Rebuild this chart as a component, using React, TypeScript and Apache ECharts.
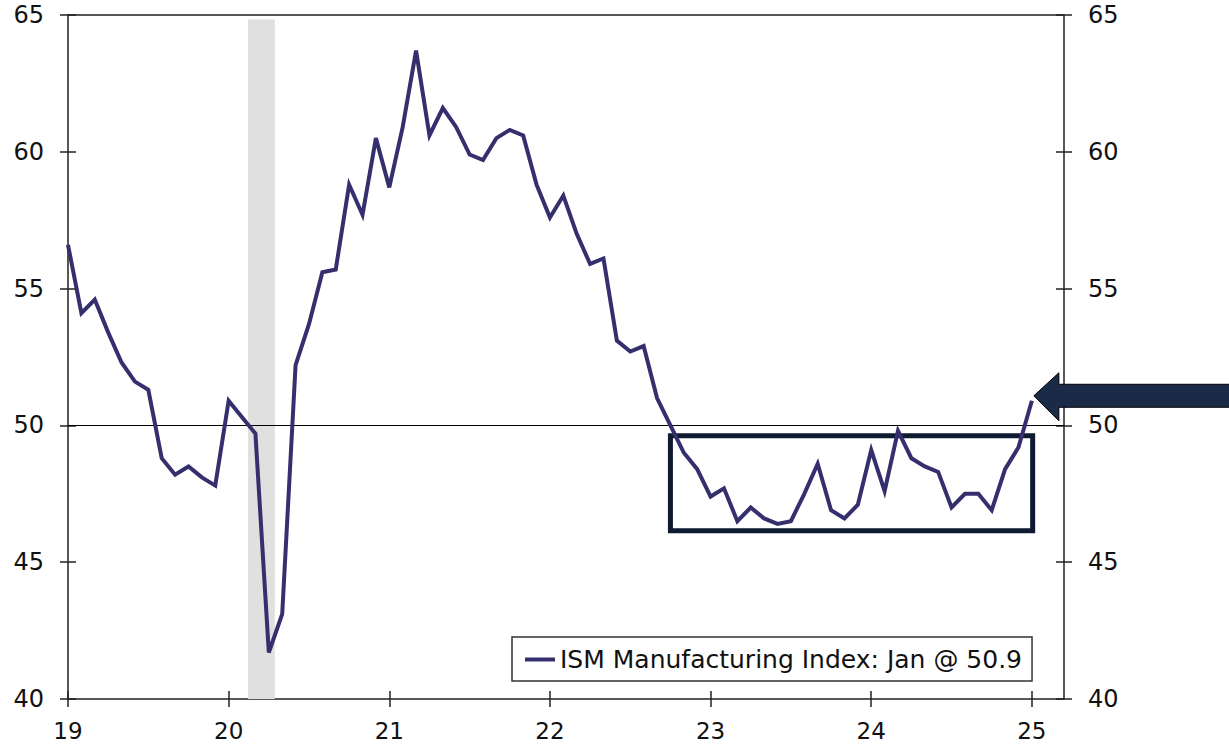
import React, { useEffect, useRef } from "react";
import * as echarts from "echarts";

// ISM Manufacturing Index, monthly, Jan 2019 .. Jan 2025
const ism2019 = [56.6, 54.1, 54.6, 53.4, 52.3, 51.6, 51.3, 48.8, 48.2, 48.5, 48.1, 47.8];
const ism2020 = [50.9, 50.3, 49.7, 41.7, 43.1, 52.2, 53.7, 55.6, 55.7, 58.8, 57.7, 60.5];
const ism2021 = [58.7, 60.9, 63.7, 60.6, 61.6, 60.9, 59.9, 59.7, 60.5, 60.8, 60.6, 58.8];
const ism2022 = [57.6, 58.4, 57.0, 55.9, 56.1, 53.1, 52.7, 52.9, 51.0, 50.0, 49.0, 48.4];
const ism2023 = [47.4, 47.7, 46.5, 47.0, 46.6, 46.4, 46.5, 47.5, 48.6, 46.9, 46.6, 47.1];
const ism2024 = [49.1, 47.6, 49.8, 48.8, 48.5, 48.3, 47.0, 47.5, 47.5, 46.9, 48.4, 49.2];
const ism2025 = [50.9];

const xTickValues = [0, 12, 24, 36, 48, 60, 72]; // months since Jan 2019
const xTickLabels = ["19", "20", "21", "22", "23", "24", "25"];
const yTickLabels = [40, 45, 50, 55, 60, 65];

const recession = [13.45, 15.45]; // Feb–Apr 2020 shading (months since Jan 2019)
const boxRange = { x0: 45, x1: 72.06, y0: 46.15, y1: 49.62 };
const legendLabel = "ISM Manufacturing Index: Jan @ 50.9";

const FONT = "'DejaVu Sans', Verdana, sans-serif";
const LINE_COLOR = "#352f6e";
const AXIS_COLOR = "#222";

export default function App() {
  const ref = useRef<HTMLDivElement>(null);

  useEffect(() => {
    if (!ref.current) return;
    const chart = echarts.init(ref.current, null, { renderer: "svg" });
    const values = [...ism2019, ...ism2020, ...ism2021, ...ism2022, ...ism2023, ...ism2024, ...ism2025];
    const data = values.map((v, i) => [i, v]);
    const xMin = 0;
    const xMax = 74.4;
    const yMin = yTickLabels[0];
    const yMax = yTickLabels[yTickLabels.length - 1];

    const labelText = { color: "#111", fontSize: 24, fontFamily: FONT };
    const tickStyle = { color: AXIS_COLOR, width: 1.5 };

    chart.setOption({
      animation: false,
      backgroundColor: "#fff",
      grid: {
        left: 68,
        right: 165,
        top: 15,
        bottom: 46,
        containLabel: false,
        show: true,
        borderColor: AXIS_COLOR,
        borderWidth: 1.5,
        backgroundColor: "rgba(0,0,0,0)",
      },
      xAxis: [
        {
          type: "value",
          min: xMin,
          max: xMax,
          position: "bottom",
          offset: -8,
          splitLine: { show: false },
          axisLine: { show: false, onZero: false },
          axisTick: { show: true, customValues: xTickValues, length: 16, inside: false, lineStyle: tickStyle },
          axisLabel: {
            show: true,
            customValues: xTickValues,
            margin: 28,
            ...labelText,
            fontSize: 23,
            lineHeight: 23,
            formatter: (v: number) => {
              const idx = xTickValues.indexOf(Math.round(v));
              return idx >= 0 ? xTickLabels[idx] : "";
            },
          },
        },
      ],
      yAxis: [
        {
          type: "value",
          min: yMin,
          max: yMax,
          interval: 5,
          position: "left",
          offset: -8,
          splitLine: { show: false },
          axisLine: { show: false, onZero: false },
          axisTick: { show: true, length: 16, inside: false, lineStyle: tickStyle },
          axisLabel: { show: true, margin: 32, ...labelText },
        },
        {
          type: "value",
          min: yMin,
          max: yMax,
          interval: 5,
          position: "right",
          offset: -8,
          splitLine: { show: false },
          axisLine: { show: false, onZero: false },
          axisTick: { show: true, length: 16, inside: false, lineStyle: tickStyle },
          axisLabel: { show: true, margin: 32, ...labelText },
        },
      ],
      legend: {
        show: true,
        left: 512,
        top: 637,
        orient: "horizontal",
        backgroundColor: "#fff",
        borderColor: "#333",
        borderWidth: 1.5,
        borderRadius: 0,
        padding: [10, 10, 9, 13],
        itemWidth: 30,
        itemHeight: 4,
        icon: "rect",
        textStyle: { color: "#111", fontSize: 25, fontFamily: FONT },
        data: [{ name: legendLabel }],
      },
      series: [
        {
          name: legendLabel,
          type: "line",
          xAxisIndex: 0,
          yAxisIndex: 0,
          data,
          showSymbol: false,
          symbol: "none",
          z: 5,
          lineStyle: { color: LINE_COLOR, width: 4, join: "miter" },
          itemStyle: { color: LINE_COLOR },
          markArea: {
            silent: true,
            label: { show: false },
            data: [
              [
                { xAxis: recession[0], yAxis: yMin, itemStyle: { color: "#e0e0e0" } },
                { xAxis: recession[1], yAxis: 64.84 },
              ],
              [
                {
                  xAxis: boxRange.x0,
                  yAxis: boxRange.y1,
                  itemStyle: { color: "rgba(0,0,0,0)", borderColor: "#0e1a2f", borderWidth: 5 },
                },
                { xAxis: boxRange.x1, yAxis: boxRange.y0 },
              ],
            ],
          },
          markLine: {
            silent: true,
            symbol: ["none", "none"],
            label: { show: false },
            lineStyle: { color: "#000", width: 1, type: "solid" },
            data: [{ yAxis: 50 }],
          },
        },
      ],
    });

    // arrow annotation pointing at the latest value
    const last = data[data.length - 1];
    const p = chart.convertToPixel({ xAxisIndex: 0, yAxisIndex: 0 }, last) as number[];
    const tipX = p[0] + 2;
    const tipY = p[1] - 5;
    chart.setOption({
      graphic: [
        {
          type: "polygon",
          z: 100,
          shape: {
            points: [
              [tipX, tipY],
              [tipX + 25, tipY - 23],
              [tipX + 25, tipY - 11.5],
              [1232, tipY - 11.5],
              [1232, tipY + 11.5],
              [tipX + 25, tipY + 11.5],
              [tipX + 25, tipY + 25],
            ],
          },
          style: { fill: "#1b2a47", stroke: "#000", lineWidth: 1 },
        },
      ],
    });

    return () => chart.dispose();
  }, []);

  return (
    <div
      ref={ref}
      style={{ position: "absolute", left: 0, top: 0, width: 1229, height: 745, background: "#fff" }}
    />
  );
}
